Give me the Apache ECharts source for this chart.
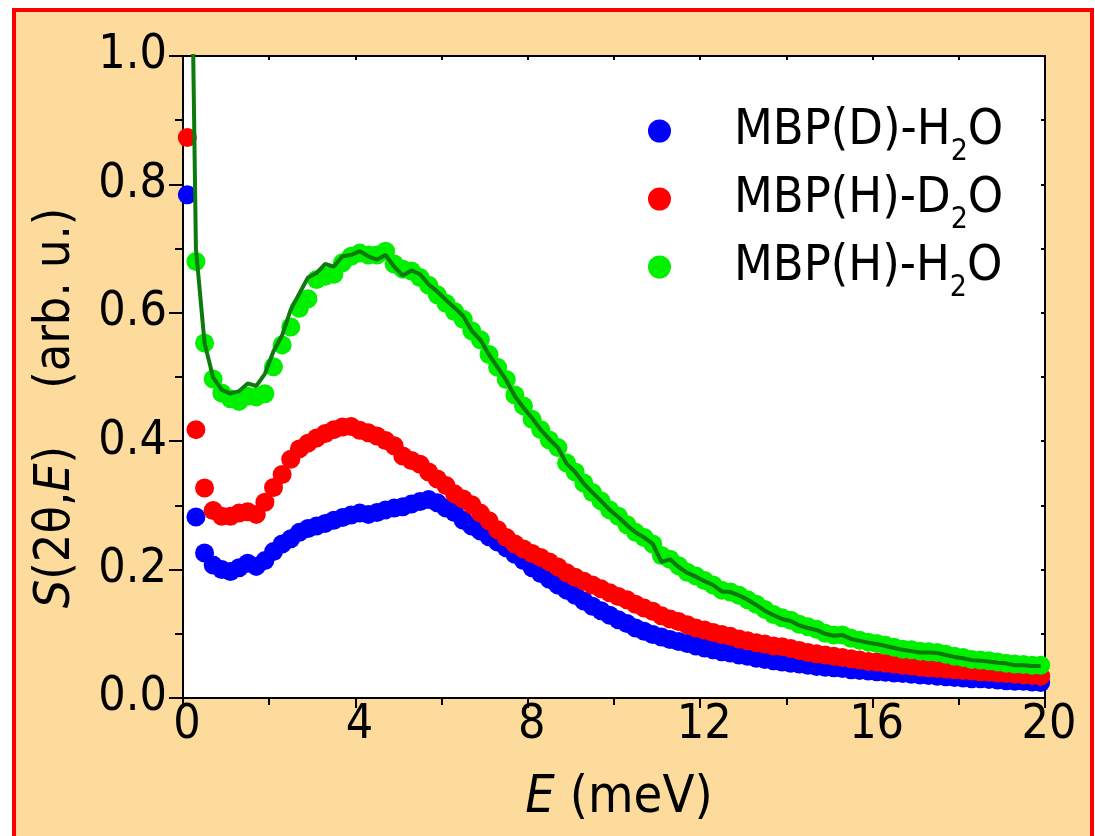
<!DOCTYPE html>
<html>
<head>
<meta charset="utf-8">
<title>S(2θ,E) of MBP in water</title>
<script src="https://cdn.jsdelivr.net/npm/echarts@6/dist/echarts.min.js"></script>
<style>
  html, body { margin: 0; padding: 0; background: #ffffff; }
  #chart { width: 1095px; height: 836px; }
</style>
</head>
<body>
<div id="chart"></div>
<script>
// Energy transfer grid (meV)
const energy = [
  0.1, 0.3, 0.5, 0.7, 0.9, 1.1, 1.3, 1.5, 1.7, 1.9,
  2.1, 2.3, 2.5, 2.7, 2.9, 3.1, 3.3, 3.5, 3.7, 3.9,
  4.1, 4.3, 4.5, 4.7, 4.9, 5.1, 5.3, 5.5, 5.7, 5.9,
  6.1, 6.3, 6.5, 6.7, 6.9, 7.1, 7.3, 7.5, 7.7, 7.9,
  8.1, 8.3, 8.5, 8.7, 8.9, 9.1, 9.3, 9.5, 9.7, 9.9,
  10.1, 10.3, 10.5, 10.7, 10.9, 11.1, 11.3, 11.5, 11.7, 11.9,
  12.1, 12.3, 12.5, 12.7, 12.9, 13.1, 13.3, 13.5, 13.7, 13.9,
  14.1, 14.3, 14.5, 14.7, 14.9, 15.1, 15.3, 15.5, 15.7, 15.9,
  16.1, 16.3, 16.5, 16.7, 16.9, 17.1, 17.3, 17.5, 17.7, 17.9,
  18.1, 18.3, 18.5, 18.7, 18.9, 19.1, 19.3, 19.5, 19.7, 19.9
];

// MBP(D)-H2O
const sMbpD_H2O = [
  0.784, 0.282, 0.226, 0.207, 0.200, 0.197, 0.203, 0.210, 0.205, 0.214,
  0.228, 0.240, 0.248, 0.258, 0.264, 0.268, 0.272, 0.277, 0.281, 0.285,
  0.288, 0.286, 0.289, 0.293, 0.296, 0.298, 0.302, 0.306, 0.309, 0.304,
  0.296, 0.289, 0.277, 0.268, 0.260, 0.251, 0.243, 0.234, 0.224, 0.214,
  0.203, 0.194, 0.185, 0.176, 0.168, 0.160, 0.151, 0.143, 0.136, 0.129,
  0.122, 0.116, 0.109, 0.104, 0.099, 0.095, 0.091, 0.088, 0.085, 0.081,
  0.078, 0.075, 0.072, 0.070, 0.067, 0.065, 0.062, 0.060, 0.058, 0.056,
  0.054, 0.053, 0.051, 0.049, 0.048, 0.047, 0.046, 0.044, 0.043, 0.042,
  0.041, 0.040, 0.039, 0.038, 0.037, 0.036, 0.035, 0.034, 0.033, 0.032,
  0.031, 0.030, 0.030, 0.029, 0.028, 0.027, 0.026, 0.026, 0.025, 0.024
];

// MBP(H)-D2O
const sMbpH_D2O = [
  0.873, 0.418, 0.327, 0.292, 0.283, 0.283, 0.288, 0.290, 0.286, 0.305,
  0.328, 0.348, 0.372, 0.388, 0.397, 0.405, 0.412, 0.418, 0.422, 0.423,
  0.417, 0.413, 0.408, 0.401, 0.393, 0.377, 0.370, 0.364, 0.352, 0.341,
  0.331, 0.318, 0.310, 0.301, 0.288, 0.276, 0.262, 0.250, 0.240, 0.232,
  0.225, 0.219, 0.212, 0.204, 0.195, 0.188, 0.182, 0.176, 0.170, 0.164,
  0.158, 0.153, 0.146, 0.140, 0.135, 0.128, 0.123, 0.119, 0.114, 0.109,
  0.106, 0.102, 0.099, 0.096, 0.092, 0.089, 0.086, 0.084, 0.081, 0.080,
  0.077, 0.074, 0.071, 0.069, 0.067, 0.065, 0.063, 0.061, 0.059, 0.057,
  0.056, 0.054, 0.053, 0.051, 0.050, 0.048, 0.047, 0.046, 0.045, 0.044,
  0.043, 0.042, 0.041, 0.040, 0.039, 0.038, 0.037, 0.036, 0.035, 0.034
];

// MBP(H)-H2O
const sMbpH_H2O = [
  1.620, 0.680, 0.553, 0.497, 0.475, 0.466, 0.462, 0.470, 0.469, 0.474,
  0.516, 0.550, 0.578, 0.607, 0.622, 0.652, 0.657, 0.660, 0.678, 0.688,
  0.693, 0.690, 0.690, 0.696, 0.676, 0.668, 0.665, 0.655, 0.643, 0.628,
  0.615, 0.602, 0.590, 0.572, 0.558, 0.535, 0.515, 0.496, 0.472, 0.455,
  0.434, 0.418, 0.402, 0.390, 0.366, 0.352, 0.335, 0.320, 0.307, 0.293,
  0.283, 0.270, 0.258, 0.250, 0.240, 0.222, 0.216, 0.206, 0.196, 0.190,
  0.183, 0.176, 0.168, 0.165, 0.160, 0.153, 0.146, 0.138, 0.130, 0.125,
  0.121, 0.115, 0.111, 0.107, 0.101, 0.098, 0.098, 0.093, 0.090, 0.087,
  0.085, 0.082, 0.079, 0.076, 0.075, 0.073, 0.072, 0.071, 0.068, 0.065,
  0.063, 0.060, 0.059, 0.058, 0.056, 0.054, 0.053, 0.052, 0.051, 0.051
];

// Sum of the two partially deuterated samples, drawn as a line
const sSum = [
  1.657, 0.700, 0.553, 0.499, 0.480, 0.474, 0.478, 0.490, 0.486, 0.505,
  0.540, 0.565, 0.605, 0.630, 0.655, 0.662, 0.676, 0.672, 0.688, 0.690,
  0.696, 0.688, 0.683, 0.690, 0.672, 0.658, 0.666, 0.660, 0.644, 0.633,
  0.620, 0.608, 0.595, 0.572, 0.558, 0.535, 0.515, 0.495, 0.470, 0.452,
  0.436, 0.418, 0.403, 0.390, 0.365, 0.352, 0.334, 0.320, 0.307, 0.293,
  0.282, 0.269, 0.258, 0.250, 0.240, 0.212, 0.216, 0.204, 0.195, 0.189,
  0.182, 0.176, 0.166, 0.165, 0.160, 0.153, 0.145, 0.136, 0.129, 0.123,
  0.120, 0.113, 0.109, 0.106, 0.100, 0.097, 0.098, 0.092, 0.089, 0.086,
  0.084, 0.081, 0.078, 0.075, 0.073, 0.071, 0.071, 0.070, 0.067, 0.064,
  0.062, 0.059, 0.058, 0.057, 0.055, 0.054, 0.051, 0.051, 0.050, 0.050
];

const seriesNames = ['MBP(D)-H2O', 'MBP(H)-D2O', 'MBP(H)-H2O'];
const legendLabels = {
  'MBP(D)-H2O': '{a|MBP(D)-H}{s|2}{b|O}',
  'MBP(H)-D2O': '{a|MBP(H)-D}{s|2}{b|O}',
  'MBP(H)-H2O': '{a|MBP(H)-H}{s|2}{b|O}'
};

const FONT = "'DejaVu Sans Condensed', 'Liberation Sans Narrow', 'Liberation Sans', sans-serif";
const PEACH = '#fddb9c';

const pairs = vals => energy.map((e, i) => [e, vals[i]]);

const chart = echarts.init(document.getElementById('chart'), null, { renderer: 'canvas' });

const axisLine = { show: true, onZero: false, lineStyle: { color: '#000', width: 2 } };
const dotStyle = color => ({ color, opacity: 1 });

chart.setOption({
  backgroundColor: '#ffffff',
  animation: false,
  textStyle: { fontFamily: FONT },
  graphic: [
    {
      type: 'rect', z: -10, silent: true,
      shape: { x: 14, y: 10, width: 1078, height: 900 },
      style: { fill: PEACH, stroke: '#ff0000', lineWidth: 4 }
    },
    {
      type: 'text', z: 10, silent: true,
      x: 56, y: 408, rotation: Math.PI / 2,
      style: {
        text: '{i|S}(2θ,{i|E})    (arb. u.)',
        fill: '#000', fontSize: 50, fontFamily: FONT,
        align: 'center', verticalAlign: 'middle',
        rich: { i: { fontStyle: 'italic', fontSize: 50, fontFamily: FONT } }
      }
    },
    {
      type: 'text', z: 10, silent: true,
      x: 619, y: 798,
      style: {
        text: '{i|E} (meV)',
        fill: '#000', fontSize: 52, fontFamily: FONT,
        align: 'center', verticalAlign: 'middle',
        rich: { i: { fontStyle: 'italic', fontSize: 52, fontFamily: FONT } }
      }
    }
  ],
  grid: {
    left: 183, right: 50, top: 56, bottom: 138,
    show: true, backgroundColor: '#ffffff', borderWidth: 0
  },
  legend: {
    data: seriesNames,
    orient: 'vertical',
    left: 643, top: 90,
    icon: 'circle',
    itemWidth: 23, itemHeight: 23,
    itemGap: -4,
    formatter: name => legendLabels[name],
    textStyle: {
      color: '#000',
      rich: {
        a: { fontSize: 50, fontFamily: FONT, color: '#000', lineHeight: 54, padding: [0, 0, 0, 58] },
        b: { fontSize: 50, fontFamily: FONT, color: '#000', lineHeight: 54 },
        s: { fontSize: 30, fontFamily: FONT, color: '#000', lineHeight: 30, padding: [42, 0, 0, 0] }
      }
    }
  },
  xAxis: [
    {
      type: 'value', position: 'bottom', min: 0, max: 20, interval: 4,
      axisLine,
      axisTick: { show: true, inside: false, length: 10, lineStyle: { color: '#000', width: 2 } },
      minorTick: { show: true, splitNumber: 2, length: 7, lineStyle: { color: '#000', width: 2 } },
      splitLine: { show: false },
      minorSplitLine: { show: false },
      axisLabel: { color: '#000', fontSize: 48, fontFamily: FONT, margin: 4, padding: [0, 0, 0, 8] }
    },
    {
      type: 'value', position: 'top', min: 0, max: 20, interval: 2,
      axisLine,
      axisTick: { show: true, inside: true, length: 4, lineStyle: { color: '#000', width: 2 } },
      axisLabel: { show: false },
      splitLine: { show: false }
    }
  ],
  yAxis: [
    {
      type: 'value', position: 'left', min: 0, max: 1, interval: 0.2,
      axisLine,
      axisTick: { show: true, inside: false, length: 14, lineStyle: { color: '#000', width: 2 } },
      minorTick: { show: true, splitNumber: 2, length: 8, lineStyle: { color: '#000', width: 2 } },
      splitLine: { show: false },
      minorSplitLine: { show: false },
      axisLabel: {
        color: '#000', fontSize: 48, fontFamily: FONT, margin: 16,
        padding: [0, 0, 22, 0],
        formatter: v => v.toFixed(1)
      }
    },
    {
      type: 'value', position: 'right', min: 0, max: 1, interval: 0.1,
      axisLine,
      axisTick: { show: true, inside: true, length: 4, lineStyle: { color: '#000', width: 2 } },
      axisLabel: { show: false },
      splitLine: { show: false }
    }
  ],
  series: [
    {
      name: seriesNames[0], type: 'scatter', clip: true, z: 2,
      symbol: 'circle', symbolSize: 19,
      itemStyle: dotStyle('#0000ff'),
      data: pairs(sMbpD_H2O)
    },
    {
      name: seriesNames[1], type: 'scatter', clip: true, z: 3,
      symbol: 'circle', symbolSize: 19,
      itemStyle: dotStyle('#ff0000'),
      data: pairs(sMbpH_D2O)
    },
    {
      name: seriesNames[2], type: 'scatter', clip: true, z: 4,
      symbol: 'circle', symbolSize: 19,
      itemStyle: dotStyle('#00f000'),
      data: pairs(sMbpH_H2O)
    },
    {
      name: 'sum', type: 'line', clip: true, z: 5,
      showSymbol: false, symbol: 'none',
      lineStyle: { color: '#0c7a0c', width: 4 },
      data: pairs(sSum)
    }
  ]
});
</script>
</body>
</html>
